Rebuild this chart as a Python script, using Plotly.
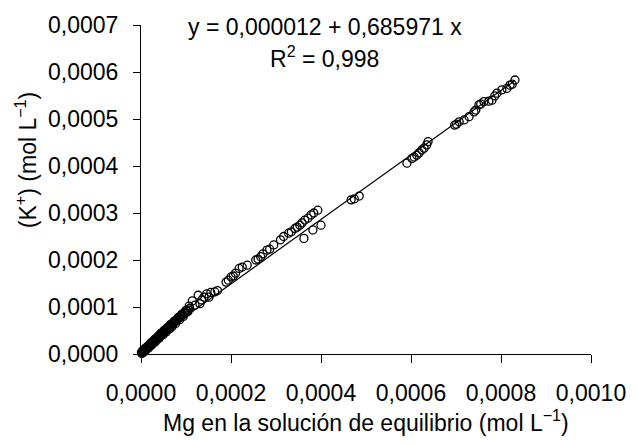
import plotly.graph_objects as go

# Mg in equilibrium solution (mol/L)
mg = [0.000001, 0.000002, 0.000003, 0.000004, 0.000005, 0.000006, 0.000007, 0.000008, 0.000009, 0.000010,
      0.000012, 0.000013, 0.000015, 0.000016, 0.000018, 0.000020, 0.000021, 0.000023, 0.000025, 0.000027,
      0.000029, 0.000031, 0.000033, 0.000035, 0.000037, 0.000039, 0.000041, 0.000043, 0.000045, 0.000048,
      0.000050, 0.000052, 0.000055, 0.000057, 0.000060, 0.000062, 0.000065, 0.000067, 0.000070, 0.000073,
      0.000075, 0.000078, 0.000081, 0.000084, 0.000087, 0.000090, 0.000093, 0.000096, 0.000099, 0.000102,
      0.000105, 0.000108,
      0.000004, 0.000011, 0.000019, 0.000028, 0.000036, 0.000046, 0.000054, 0.000063, 0.000072, 0.000080,
      0.000088, 0.000097,
      0.000003, 0.000008, 0.000014, 0.000022, 0.000030, 0.000038, 0.000044, 0.000051, 0.000058, 0.000066,
      0.000074, 0.000083, 0.000091, 0.000100,
      0.000002, 0.000009, 0.000017, 0.000024, 0.000032, 0.000040, 0.000049, 0.000056, 0.000064, 0.000069,
      0.000077, 0.000086, 0.000094, 0.000104,
      0.000107, 0.000114, 0.000120, 0.000127, 0.000131, 0.000135, 0.000140, 0.000146, 0.000151, 0.000155,
      0.000164, 0.000170,
      0.000189, 0.000194, 0.000200, 0.000205, 0.000210, 0.000218, 0.000225, 0.000236,
      0.000255, 0.000260, 0.000266, 0.000271, 0.000280, 0.000286, 0.000295,
      0.000310, 0.000317, 0.000328, 0.000334, 0.000342, 0.000347, 0.000353, 0.000358, 0.000364, 0.000371,
      0.000378, 0.000384, 0.000393, 0.000362, 0.000382, 0.000400,
      0.000467, 0.000474, 0.000485,
      0.000591, 0.000602, 0.000607, 0.000613, 0.000618, 0.000624, 0.000629, 0.000635, 0.000638,
      0.000697, 0.000701, 0.000707, 0.000718, 0.000729, 0.000740, 0.000744, 0.000751, 0.000755, 0.000762,
      0.000773, 0.000780, 0.000786, 0.000791, 0.000802, 0.000813, 0.000820, 0.000825, 0.000831]

# K+ (mol/L)
k = [0.000003, 0.000004, 0.000002, 0.000006, 0.000005, 0.000008, 0.000006, 0.000009, 0.000010, 0.000008,
     0.000013, 0.000011, 0.000015, 0.000014, 0.000017, 0.000019, 0.000018, 0.000022, 0.000022, 0.000026,
     0.000025, 0.000029, 0.000030, 0.000032, 0.000033, 0.000036, 0.000037, 0.000040, 0.000040, 0.000044,
     0.000045, 0.000048, 0.000049, 0.000053, 0.000054, 0.000057, 0.000058, 0.000062, 0.000063, 0.000067,
     0.000068, 0.000071, 0.000073, 0.000077, 0.000078, 0.000082, 0.000083, 0.000087, 0.000088, 0.000092,
     0.000094, 0.000097,
     0.000007, 0.000013, 0.000020, 0.000028, 0.000035, 0.000044, 0.000051, 0.000059, 0.000067, 0.000074,
     0.000081, 0.000089,
     0.000006, 0.000011, 0.000016, 0.000024, 0.000031, 0.000038, 0.000044, 0.000050, 0.000056, 0.000063,
     0.000070, 0.000078, 0.000085, 0.000093,
     0.000001, 0.000006, 0.000013, 0.000019, 0.000026, 0.000033, 0.000041, 0.000047, 0.000054, 0.000058,
     0.000065, 0.000073, 0.000080, 0.000090,
     0.000102, 0.000113, 0.000104, 0.000125, 0.000107, 0.000115, 0.000121, 0.000128, 0.000121, 0.000131,
     0.000132, 0.000135,
     0.000153, 0.000157, 0.000164, 0.000166, 0.000172, 0.000182, 0.000185, 0.000189,
     0.000200, 0.000202, 0.000207, 0.000213, 0.000221, 0.000223, 0.000232,
     0.000243, 0.000250, 0.000257, 0.000260, 0.000267, 0.000270, 0.000274, 0.000279, 0.000285, 0.000289,
     0.000296, 0.000300, 0.000306, 0.000246, 0.000264, 0.000274,
     0.000328, 0.000330, 0.000336,
     0.000406, 0.000416, 0.000419, 0.000423, 0.000428, 0.000434, 0.000438, 0.000445, 0.000452,
     0.000487, 0.000489, 0.000494, 0.000498, 0.000505, 0.000515, 0.000519, 0.000530, 0.000532, 0.000537,
     0.000538, 0.000540, 0.000549, 0.000555, 0.000562, 0.000565, 0.000572, 0.000574, 0.000583]

# regression shown on chart
intercept = 0.000012
slope = 0.685971
r2_label = "0,998"

x_ticks = [0.0, 0.0002, 0.0004, 0.0006, 0.0008, 0.0010]
y_ticks = [0.0, 0.0001, 0.0002, 0.0003, 0.0004, 0.0005, 0.0006, 0.0007]

FONT = "Liberation Sans, Arial, sans-serif"
FS = 23

line_x = [min(mg), max(mg)]
line_y = [intercept + slope * v for v in line_x]

fig = go.Figure()
fig.add_trace(go.Scatter(x=line_x, y=line_y, mode="lines",
                         line=dict(color="black", width=1.2), showlegend=False,
                         cliponaxis=False))
fig.add_trace(go.Scatter(x=mg, y=k, mode="markers",
                         marker=dict(symbol="circle-open", size=8, color="black",
                                     line=dict(width=1.3, color="black")),
                         showlegend=False, cliponaxis=False))

fig.update_layout(
    width=638, height=444,
    margin=dict(l=141, r=39, t=25, b=90),
    paper_bgcolor="white", plot_bgcolor="white",
    separators=",.",
    font=dict(family=FONT, size=FS, color="black"),
    xaxis=dict(range=[0, 0.001], tickvals=x_ticks, tickformat=".4f",
               ticks="outside", ticklen=8, tickcolor="black", tickwidth=1,
               showline=True, linecolor="black", linewidth=1,
               showgrid=False, zeroline=False, ticklabelstandoff=10,
               tickfont=dict(family=FONT, size=FS, color="black")),
    yaxis=dict(range=[0, 0.0007], tickvals=y_ticks, tickformat=".4f",
               ticks="outside", ticklen=7, tickcolor="black", tickwidth=1,
               showline=True, linecolor="black", linewidth=1,
               showgrid=False, zeroline=False, ticklabelstandoff=10,
               tickfont=dict(family=FONT, size=FS, color="black")),
    annotations=[
        dict(text="Mg en la solución de equilibrio (mol L<sup>−1</sup>)",
             xref="paper", yref="paper", x=0.5, y=-0.205,
             xanchor="center", yanchor="middle", showarrow=False,
             font=dict(family=FONT, size=FS, color="black")),
        dict(text="(K<sup>+</sup>) (mol L<sup>−1</sup>)",
             xref="paper", yref="paper", x=-0.255, y=0.59,
             xanchor="center", yanchor="middle", textangle=-90, showarrow=False,
             font=dict(family=FONT, size=FS, color="black")),
        dict(text="y = 0,000012 + 0,685971 x",
             xref="paper", yref="paper", x=0.408, y=0.994,
             xanchor="center", yanchor="middle", showarrow=False,
             font=dict(family=FONT, size=FS, color="black")),
        dict(text="R<sup>2</sup> = " + r2_label,
             xref="paper", yref="paper", x=0.408, y=0.903,
             xanchor="center", yanchor="middle", showarrow=False,
             font=dict(family=FONT, size=FS, color="black")),
    ],
)

fig.write_html("out.html")
